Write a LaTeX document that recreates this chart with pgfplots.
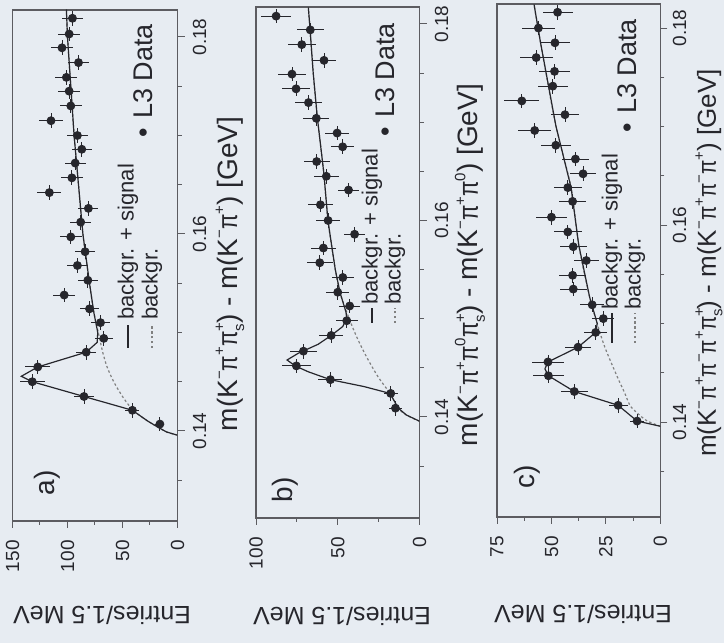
\documentclass[border=0pt]{standalone}
\usepackage{fontspec}
\setmainfont{Liberation Sans}
\usepackage{pgfplots}
\pgfplotsset{compat=1.18}
\definecolor{paper}{RGB}{231,236,242}
\definecolor{ink}{RGB}{38,38,44}
\newcommand\fs[1]{\fontsize{#1}{#1}\selectfont}
\newcommand\ppi{\scalebox{0.8}[1]{π}}
\newcommand\su[1]{\raisebox{0.45em}{\fs{7.5}#1}}
\newcommand\sus[2]{\makebox[0pt][l]{\raisebox{0.45em}{\fs{7.5}#1}}\raisebox{-0.25em}{\fs{7.5}#2}}
\pgfplotsset{
  panel/.style={
    scale only axis, anchor=center,
    x dir=reverse, xmin=0,
    axis line style={ink!75, line width=0.6pt},
    tick style={ink!75, line width=0.5pt},
    tick align=outside,
    major tick length=3.5pt, minor tick length=2pt,
    xtick pos=bottom, ytick pos=right, yticklabel pos=right,
    ytick={0.14,0.16,0.18}, yticklabels={0.14,0.16,0.18},
    minor ytick={0.135,0.145,0.15,0.155,0.165,0.17,0.175},
    scaled y ticks=false,
    /pgf/number format/assume math mode=true,
    ticklabel style={font=\fs{9.5}, text=ink},
    xticklabel style={rotate=90, anchor=east, inner sep=0pt},
    yticklabel style={rotate=90, anchor=north, inner sep=0pt},
    xticklabel shift=6pt, yticklabel shift=4pt,
  },
  data/.style={only marks, mark=*, mark size=2pt, mark options={ink, fill=ink},
    error bars/.cd, x dir=both, x explicit, y dir=both, y fixed=0.00075,
    error bar style={ink, line width=0.45pt}, error mark=none},
  sb/.style={ink, line width=0.6pt, no marks},
  bg/.style={gray, line width=0.6pt, dash pattern=on 1.2pt off 1.2pt, no marks, smooth},
}
\begin{document}
\begin{tikzpicture}
\useasboundingbox (0pt,0pt) rectangle (362pt,321.5pt);
\fill[paper] (0pt,0pt) rectangle (362pt,321.5pt);

% ---------------- panel a ----------------
\begin{axis}[panel, at={(47.5pt,188.75pt)}, width=82.5pt, height=255.5pt,
  xmax=150, ymin=0.13086, ymax=0.18274,
  xtick={0,50,100,150}, minor xtick={25,75,125}]
\addplot[bg] coordinates {(0,0.13957) (10,0.1399) (18,0.1404) (27,0.1410) (36,0.1417) (42,0.1423) (50,0.1435) (58,0.1450) (64,0.1465) (68,0.1480) (72,0.1500) (76,0.1520) (80,0.1550) (86,0.1600) (90,0.1650) (94,0.1700) (97,0.1750) (100,0.1800) (101,0.1828)};
\addplot[sb] coordinates {(0,0.13957) (10,0.1399) (18,0.1404) (27,0.1410) (41,0.1421) (85,0.1435) (132,0.1450) (142,0.14555) (127,0.1465) (83,0.1480) (73,0.1490) (72.5,0.1500) (76,0.1520) (80,0.1550) (86,0.1600) (90,0.1650) (94,0.1700) (97,0.1750) (100,0.1800) (101,0.1828)};
\addplot[data] table[x=N, y=m, x error=dN] {
m N dN
0.1407 16 4.0
0.1421 41 6.4
0.1435 85 9.2
0.1450 132 11.5
0.1465 127 11.3
0.1480 83 9.1
0.1494 67 8.2
0.1510 70 8.4
0.1524 80 8.9
0.1538 103 10.1
0.1553 81.5 9.0
0.1568 91 9.5
0.1582 84 9.2
0.1597 97 9.8
0.1612 88 9.4
0.1626 81 9.0
0.1642 116.5 10.8
0.1657 96 9.8
0.1672 93 9.6
0.1686 87 9.3
0.1700 91 9.5
0.1715 115 10.7
0.1730 97 9.8
0.1745 98.5 9.9
0.1759 101 10.0
0.1774 90 9.5
0.1789 105 10.2
0.1803 98.5 9.9
0.1819 95.5 9.8
};
\end{axis}

% ---------------- panel b ----------------
\begin{axis}[panel, at={(168.875pt,190.25pt)}, width=81.75pt, height=255.5pt,
  xmax=100, ymin=0.12972, ymax=0.18173,
  xtick={0,50,100}, minor xtick={25,75}]
\addplot[bg] coordinates {(0,0.13957) (8,0.1402) (13,0.1409) (18,0.1424) (25,0.1440) (32,0.1460) (38,0.1480) (43,0.1500) (48.5,0.1526) (51.5,0.1550) (56,0.1600) (58.5,0.1648) (62.5,0.1705) (65,0.1750) (67,0.1796) (68,0.1817)};
\addplot[sb] coordinates {(0,0.13957) (8,0.1402) (13,0.1409) (18,0.1424) (34,0.1431) (54.5,0.1438) (68,0.1446) (76,0.1452) (81,0.1458) (74,0.1465) (62,0.1474) (54,0.1483) (47,0.1492) (44.5,0.1500) (45,0.1507) (48.5,0.1526) (51.5,0.1550) (56,0.1600) (58.5,0.1648) (62.5,0.1705) (65,0.1750) (67,0.1796) (68,0.1817)};
\addplot[data] table[x=N, y=m, x error=dN] {
m N dN
0.1409 14.7 3.8
0.1424 17.6 4.2
0.1438 54.5 7.4
0.1452 75.3 8.7
0.1467 71 8.4
0.1483 54 7.3
0.1498 44.5 6.7
0.1513 42.7 6.5
0.1527 50 7.1
0.1542 46.9 6.8
0.1557 61 7.8
0.1572 58.8 7.7
0.1586 39.7 6.3
0.1600 55.9 7.5
0.1616 60.6 7.8
0.1631 43.4 6.6
0.1645 57 7.5
0.1660 62.9 7.9
0.1675 47 6.9
0.1689 50.4 7.1
0.1704 63.1 7.9
0.1720 67.9 8.2
0.1734 75.5 8.7
0.1749 78 8.8
0.1763 58.4 7.6
0.1779 72 8.5
0.1794 66.8 8.2
0.1808 87.7 9.4
};
\end{axis}

% ---------------- panel c ----------------
\begin{axis}[panel, at={(289.35pt,191.25pt)}, width=81.7pt, height=256.5pt,
  xmax=75, ymin=0.13036, ymax=0.18244, yticklabel shift=2.5pt,
  xtick={0,25,50,75}, minor xtick={12.5,37.5,62.5}]
\addplot[bg] coordinates {(0,0.13957) (6,0.1401) (9,0.1406) (12,0.1412) (14,0.1417) (16.5,0.1430) (20,0.1447) (25.5,0.1476) (29,0.1500) (32.5,0.1527) (37.5,0.1580) (41,0.1638) (48,0.1701) (55,0.1785) (58,0.1824)};
\addplot[sb] coordinates {(0,0.13957) (10.7,0.1401) (19.4,0.1417) (39.5,0.1431) (51.4,0.1447) (53,0.1454) (51.6,0.1461) (37.8,0.1476) (29.7,0.1491) (29,0.1500) (32.5,0.1527) (37.5,0.1580) (41,0.1638) (48,0.1701) (55,0.1785) (58,0.1824)};
\addplot[data] table[x=N, y=m, x error=dN] {
m N dN
0.1401 10.7 3.3
0.1417 19.4 4.4
0.1431 39.5 6.3
0.1447 51.4 7.2
0.1461 51.6 7.2
0.1476 37.8 6.1
0.1491 29.7 5.4
0.1505 26.2 5.1
0.1519 31.3 5.6
0.1535 40 6.3
0.1549 40.3 6.3
0.1564 34 5.8
0.1578 40 6.3
0.1593 42.5 6.5
0.1608 50 7.1
0.1624 40.3 6.3
0.1638 42.5 6.5
0.1652 35.5 6.0
0.1667 39 6.2
0.1681 48 6.9
0.1696 57.7 7.6
0.1712 43.8 6.6
0.1726 63.6 8.0
0.1741 49.4 7.0
0.1756 48.6 7.0
0.1770 57 7.5
0.1785 48.4 7.0
0.1800 56 7.5
0.1816 47.2 6.9
};
\end{axis}

% ---------------- texts ----------------
\begin{scope}[every node/.style={text=ink, inner sep=0pt}]
% mass axis labels
\node[rotate=90, font=\fs{14}] at (115pt,184.5pt) {m(K\su{−}\ppi\su{+}\ppi\sus{+}{s})\ -\ m(K\su{−}\ppi\su{+})\ [GeV]};
\node[rotate=90, font=\fs{14}] at (235pt,189pt) {m(K\su{−}\ppi\su{+}\ppi\su{0}\ppi\sus{+}{s})\ -\ m(K\su{−}\ppi\su{+}\ppi\su{0})\ [GeV]};
\node[rotate=90, font=\fs{13}] at (354.5pt,190pt) {m(K\su{−}\ppi\su{+}\ppi\su{−}\ppi\su{+}\ppi\sus{+}{s})\ -\ m(K\su{−}\ppi\su{+}\ppi\su{−}\ppi\su{+})\ [GeV]};
% entries labels
\node[rotate=180, font=\fs{12.5}] at (51pt,14pt) {Entries/1.5 MeV};
\node[rotate=180, font=\fs{12.5}] at (171pt,13.5pt) {Entries/1.5 MeV};
\node[rotate=180, font=\fs{12.5}] at (291.5pt,14.5pt) {Entries/1.5 MeV};
% panel letters
\node[rotate=90, font=\fs{14}] at (23.5pt,80pt) {a)};
\node[rotate=90, font=\fs{14}] at (142.5pt,76.5pt) {b)};
\node[rotate=90, font=\fs{14}] at (263.5pt,83pt) {c)};
% legends a
\draw[ink, line width=0.6pt] (64pt,147.5pt) -- (64pt,159pt);
\node[rotate=90, anchor=west, font=\fs{11}] at (64pt,161.5pt) {backgr. + signal};
\draw[gray, line width=0.6pt, dash pattern=on 1.2pt off 1.2pt] (76pt,147.5pt) -- (76pt,159pt);
\node[rotate=90, anchor=west, font=\fs{11}] at (76pt,161.5pt) {backgr.};
\node[rotate=90, anchor=west, font=\fs{13.5}] at (71.5pt,252.5pt) {\textbullet\hspace{0.35em}L3 Data};
% legends b
\draw[ink, line width=0.6pt] (186pt,160pt) -- (186pt,167.5pt);
\node[rotate=90, anchor=west, font=\fs{11}] at (186pt,169pt) {backgr. + signal};
\draw[gray, line width=0.6pt, dash pattern=on 1.2pt off 1.2pt] (197.5pt,160pt) -- (197.5pt,167.5pt);
\node[rotate=90, anchor=west, font=\fs{11}] at (197.5pt,169pt) {backgr.};
\node[rotate=90, anchor=west, font=\fs{13.5}] at (192.5pt,253pt) {\textbullet\hspace{0.35em}L3 Data};
% legends c
\draw[ink, line width=0.6pt] (306pt,150pt) -- (306pt,165pt);
\node[rotate=90, anchor=west, font=\fs{11}] at (306pt,166.5pt) {backgr. + signal};
\draw[gray, line width=0.6pt, dash pattern=on 1.2pt off 1.2pt] (317.5pt,150pt) -- (317.5pt,165pt);
\node[rotate=90, anchor=west, font=\fs{11}] at (317.5pt,166.5pt) {backgr.};
\node[rotate=90, anchor=west, font=\fs{13.5}] at (313.5pt,255pt) {\textbullet\hspace{0.35em}L3 Data};
\end{scope}
\end{tikzpicture}
\end{document}
